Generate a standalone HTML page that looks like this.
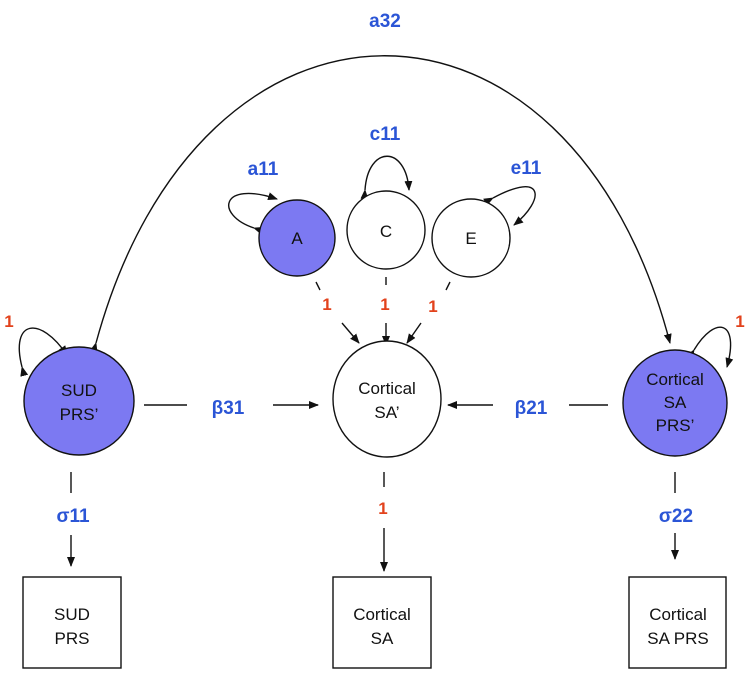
<!DOCTYPE html>
<html><head><style>
body{margin:0;background:#fff}
svg{display:block}
text{font-family:"Liberation Sans",Arial,sans-serif}
.b{fill:#2b55d6;font-weight:bold;font-size:19px;text-anchor:middle}
.r{fill:#e2421c;font-weight:bold;font-size:17px;text-anchor:middle}
.n{fill:#111;font-size:17px;text-anchor:middle}
</style></head><body>
<svg width="751" height="677" viewBox="0 0 751 677">
<defs><marker id="ah" markerWidth="10" markerHeight="10" refX="9" refY="5" orient="auto" markerUnits="userSpaceOnUse"><path d="M0,1 L10,5 L0,9 z" fill="#111"/></marker></defs>
<g fill="none" stroke="#111" stroke-width="1.4">
<path d="M96,343 C200,-40 570,-40 670,343" marker-start="url(#ah)" marker-end="url(#ah)"/>
<path d="M254,228 C215,215 220,180 277,199" marker-start="url(#ah)" marker-end="url(#ah)"/>
<path d="M365,190 C368,145 406,145 409,190" marker-start="url(#ah)" marker-end="url(#ah)"/>
<path d="M493,198 C545,170 545,200 514,225" marker-start="url(#ah)" marker-end="url(#ah)"/>
<path d="M22,367 C10,320 40,315 67,355" marker-start="url(#ah)" marker-end="url(#ah)"/>
<path d="M694,350 C715,315 740,320 727,367" marker-start="url(#ah)" marker-end="url(#ah)"/>
<line x1="316" y1="282" x2="320" y2="290"/><line x1="342" y1="323" x2="359" y2="343" marker-end="url(#ah)"/>
<line x1="386" y1="277" x2="386" y2="285"/><line x1="386" y1="323" x2="386" y2="345" marker-end="url(#ah)"/>
<line x1="450" y1="282" x2="446" y2="290"/><line x1="421" y1="323" x2="407" y2="343" marker-end="url(#ah)"/>
<line x1="144" y1="405" x2="187" y2="405"/><line x1="273" y1="405" x2="318" y2="405" marker-end="url(#ah)"/>
<line x1="608" y1="405" x2="569" y2="405"/><line x1="493" y1="405" x2="448" y2="405" marker-end="url(#ah)"/>
<line x1="71" y1="472" x2="71" y2="493"/><line x1="71" y1="535" x2="71" y2="566" marker-end="url(#ah)"/>
<line x1="384" y1="472" x2="384" y2="487"/><line x1="384" y1="528" x2="384" y2="571" marker-end="url(#ah)"/>
<line x1="675" y1="472" x2="675" y2="493"/><line x1="675" y1="533" x2="675" y2="559" marker-end="url(#ah)"/>
<rect x="23" y="577" width="98" height="91" fill="#fff"/>
<rect x="333" y="577" width="98" height="91" fill="#fff"/>
<rect x="629" y="577" width="97" height="91" fill="#fff"/>
</g>
<g stroke="#111" stroke-width="1.4">
<circle cx="297" cy="238" r="38" fill="#7c79f2"/>
<circle cx="386" cy="230" r="39" fill="#fff"/>
<circle cx="471" cy="238" r="39" fill="#fff"/>
<ellipse cx="79" cy="401" rx="55" ry="54" fill="#7c79f2"/>
<ellipse cx="387" cy="399" rx="54" ry="58" fill="#fff"/>
<ellipse cx="675" cy="403" rx="52" ry="53" fill="#7c79f2"/>
</g>
<text class="n" x="297" y="244">A</text>
<text class="n" x="386" y="237">C</text>
<text class="n" x="471" y="244">E</text>
<text class="n" x="79" y="396">SUD</text><text class="n" x="79" y="420">PRS’</text>
<text class="n" x="387" y="394" font-size="16">Cortical</text><text class="n" x="387" y="418">SA’</text>
<text class="n" x="675" y="385">Cortical</text><text class="n" x="675" y="408">SA</text><text class="n" x="675" y="431">PRS’</text>
<text class="n" x="72" y="620">SUD</text><text class="n" x="72" y="644">PRS</text>
<text class="n" x="382" y="620">Cortical</text><text class="n" x="382" y="644">SA</text>
<text class="n" x="678" y="620">Cortical</text><text class="n" x="678" y="644">SA PRS</text>
<text class="b" x="385" y="27">a32</text>
<text class="b" x="385" y="140">c11</text>
<text class="b" x="263" y="175">a11</text>
<text class="b" x="526" y="174">e11</text>
<text class="b" x="228" y="414">β31</text>
<text class="b" x="531" y="414">β21</text>
<text class="b" x="73" y="522">σ11</text>
<text class="b" x="676" y="522">σ22</text>
<text class="r" x="327" y="310">1</text>
<text class="r" x="385" y="310">1</text>
<text class="r" x="433" y="312">1</text>
<text class="r" x="9" y="327">1</text>
<text class="r" x="740" y="327">1</text>
<text class="r" x="383" y="514">1</text>
</svg>
</body></html>
